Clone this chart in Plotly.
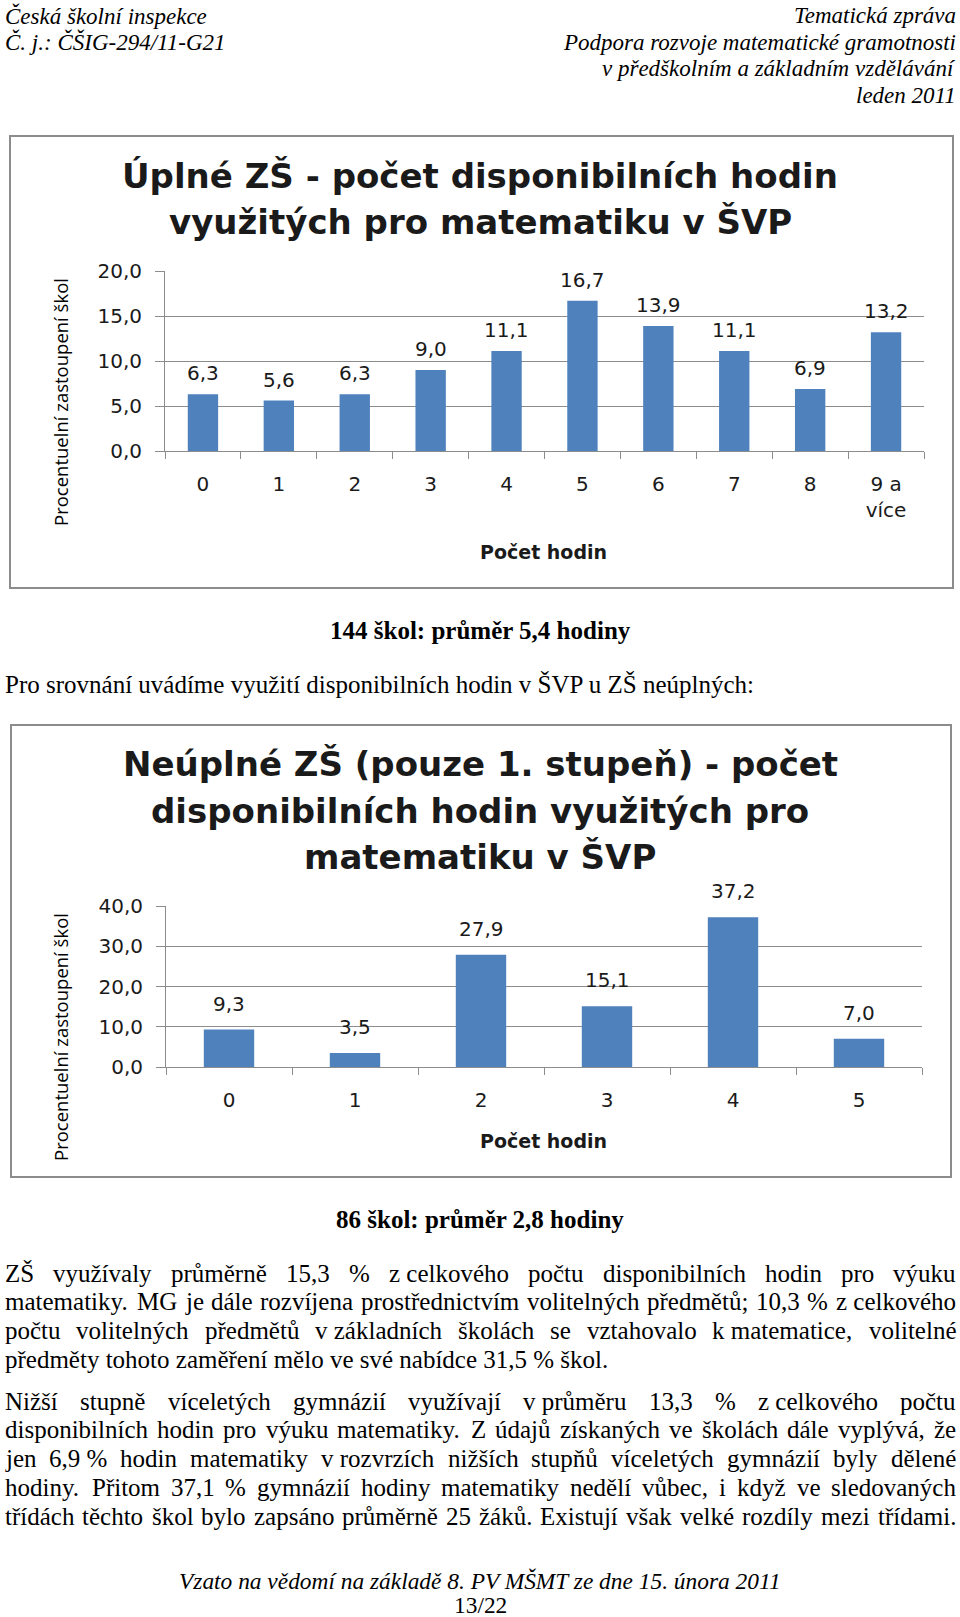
import unicodedata
import plotly.graph_objects as go

W, H = 960, 1617

# ---------------- data ----------------
cats1 = ["0", "1", "2", "3", "4", "5", "6", "7", "8", "9 a<br>více"]
vals1 = [6.3, 5.6, 6.3, 9.0, 11.1, 16.7, 13.9, 11.1, 6.9, 13.2]
title1 = ["Úplné ZŠ - počet disponibilních hodin", "využitých pro matematiku v ŠVP"]

cats2 = ["0", "1", "2", "3", "4", "5"]
vals2 = [9.3, 3.5, 27.9, 15.1, 37.2, 7.0]
title2 = ["Neúplné ZŠ (pouze 1. stupeň) - počet", "disponibilních hodin využitých pro", "matematiku v ŠVP"]

xtitle = "Počet hodin"
ytitle = "Procentuelní zastoupení škol"

header_left = ["Česká školní inspekce", "Č. j.: ČŠIG-294/11-G21"]
header_right = ["Tematická zpráva", "Podpora rozvoje matematické gramotnosti",
                "v předškolním a základním vzdělávání", "leden 2011"]
caption1 = "144 škol: průměr 5,4 hodiny"
intro = "Pro srovnání uvádíme využití disponibilních hodin v ŠVP u ZŠ neúplných:"
caption2 = "86 škol: průměr 2,8 hodiny"
NB = "\u00a0"
para1 = [
    "ZŠ využívaly průměrně 15,3 % z" + NB + "celkového počtu disponibilních hodin pro výuku",
    "matematiky. MG je dále rozvíjena prostřednictvím volitelných předmětů; 10,3 % z" + NB + "celkového",
    "počtu volitelných předmětů v" + NB + "základních školách se vztahovalo k" + NB + "matematice, volitelné",
    "předměty tohoto zaměření mělo ve své nabídce 31,5 % škol.",
]
para2 = [
    "Nižší stupně víceletých gymnázií využívají v" + NB + "průměru 13,3 % z" + NB + "celkového počtu",
    "disponibilních hodin pro výuku matematiky. Z údajů získaných ve školách dále vyplývá, že",
    "jen 6,9" + NB + "% hodin matematiky v" + NB + "rozvrzích nižších stupňů víceletých gymnázií byly dělené",
    "hodiny. Přitom 37,1 % gymnázií hodiny matematiky nedělí vůbec, i když ve sledovaných",
    "třídách těchto škol bylo zapsáno průměrně 25 žáků. Existují však velké rozdíly mezi třídami.",
]
footer = ["Vzato na vědomí na základě 8. PV MŠMT ze dne 15. února 2011", "13/22"]

# ---------------- styles ----------------
BLUE = "#4F81BD"
GRID = "#8C8C8C"
SERIF = "Liberation Serif"
SANS = "DejaVu Sans"
YT = "Open Sans"
BODY = 25
INK = "#1a1a1a"


def X(px):
    return px / W


def Y(py):
    return 1 - py / H


annotations = []


def text(s, px, py, size, xanchor="left", family=SERIF, color="black", angle=0):
    annotations.append(dict(text=s, x=X(px), y=Y(py), xref="paper", yref="paper",
                            xanchor=xanchor, yanchor="middle", showarrow=False,
                            textangle=angle, borderpad=0, borderwidth=0,
                            font=dict(family=family, size=size, color=color)))


# Times-like advance widths (1/1000 em)
TW = {' ': 250, '\u00a0': 250, 'a': 444, 'b': 500, 'c': 444, 'd': 500, 'e': 444, 'f': 333, 'g': 500,
      'h': 500, 'i': 278, 'j': 278, 'k': 500, 'l': 278, 'm': 778, 'n': 500, 'o': 500, 'p': 500,
      'q': 500, 'r': 333, 's': 389, 't': 278, 'u': 500, 'v': 500, 'w': 722, 'x': 500, 'y': 500,
      'z': 444, ',': 250, '.': 250, ';': 278, ':': 278, '%': 833, 'A': 722, 'B': 667, 'C': 667,
      'D': 722, 'E': 611, 'F': 556, 'G': 722, 'H': 722, 'I': 333, 'J': 389, 'K': 722, 'L': 611,
      'M': 889, 'N': 722, 'O': 722, 'P': 556, 'Q': 722, 'R': 667, 'S': 556, 'T': 611, 'U': 722,
      'V': 722, 'W': 944, 'X': 722, 'Y': 722, 'Z': 611}


def width(s, size):
    tot = 0
    for ch in s:
        base = unicodedata.normalize("NFD", ch)[0]
        tot += TW.get(base, 500)
    return tot * size / 1000.0


def justified(line, py, left=5, right=956, size=BODY):
    words = line.split(" ")
    ws = [width(w, size) for w in words]
    gap = (right - left - sum(ws)) / (len(words) - 1)
    xpos = left
    for i, w in enumerate(words):
        if i == len(words) - 1:
            text(w, right, py, size, xanchor="right")
        else:
            text(w, xpos, py, size)
        xpos += ws[i] + gap


# header
for i, s in enumerate(header_left):
    text("<i>" + s + "</i>", 5, 15.5 + 26.5 * i, 23)
for i, s in enumerate(header_right):
    text("<i>" + s + "</i>", 956, 15.5 + 26.5 * i, 23, xanchor="right")

text("<b>" + caption1 + "</b>", 480, 630, BODY, xanchor="center")
text(intro, 5, 684, BODY)
text("<b>" + caption2 + "</b>", 480, 1219, BODY, xanchor="center")

LS = 28.9
for i, s in enumerate(para1):
    if i < len(para1) - 1:
        justified(s, 1273 + LS * i)
    else:
        text(s, 5, 1273 + LS * i, BODY)
for i, s in enumerate(para2):
    justified(s, 1401 + LS * i)

text("<i>" + footer[0] + "</i>", 480, 1581, 23.4, xanchor="center")
text(footer[1], 480, 1605, 23.4, xanchor="center")

# chart titles and axis titles
for i, s in enumerate(title1):
    text("<b>" + s + "</b>", 480, 176 + 46 * i, 34, xanchor="center", family=SANS, color=INK)
for i, s in enumerate(title2):
    text("<b>" + s + "</b>", 480, 764 + 46.5 * i, 34, xanchor="center", family=SANS, color=INK)
text("<b>" + xtitle + "</b>", 543, 552, 19, xanchor="center", family=SANS, color=INK)
text("<b>" + xtitle + "</b>", 543, 1141, 19, xanchor="center", family=SANS, color=INK)
text(ytitle, 60, 402, 18.5, xanchor="center", family=YT, color="black", angle=-90)
text(ytitle, 60, 1037, 18.5, xanchor="center", family=YT, color="black", angle=-90)


def fmt(v):
    return ("%.1f" % v).replace(".", ",")


# data labels
for c, v in zip(cats1, vals1):
    annotations.append(dict(text=fmt(v), x=c, y=v, xref="x", yref="y", yanchor="middle",
                            yshift=21, showarrow=False, font=dict(family=SANS, size=20, color=INK)))
for c, v in zip(cats2, vals2):
    annotations.append(dict(text=fmt(v), x=c, y=v, xref="x2", yref="y2", yanchor="middle",
                            yshift=26, showarrow=False, font=dict(family=SANS, size=20, color=INK)))

fig = go.Figure()
fig.add_trace(go.Bar(x=cats1, y=vals1, marker=dict(color=BLUE, line=dict(width=0)),
                     width=0.4, xaxis="x", yaxis="y", hoverinfo="skip"))
fig.add_trace(go.Bar(x=cats2, y=vals2, marker=dict(color=BLUE, line=dict(width=0)),
                     width=0.4, xaxis="x2", yaxis="y2", hoverinfo="skip"))

xcommon = dict(type="category", showline=True, linecolor=GRID, linewidth=1, ticks="outside",
               tickson="boundaries", ticklen=7, tickcolor=GRID, showgrid=False, automargin=False,
               tickfont=dict(family=SANS, size=20, color=INK), ticklabelstandoff=15)
ycommon = dict(showline=True, linecolor=GRID, linewidth=1, ticks="outside", ticklen=9,
               tickcolor=GRID, showgrid=True, gridcolor=GRID, gridwidth=1, zeroline=False,
               automargin=False,
               tickformat=".1f", tickfont=dict(family=SANS, size=20, color=INK),
               ticklabelstandoff=9)

fig.update_layout(
    width=W, height=H, margin=dict(l=0, r=0, t=0, b=0, pad=0, autoexpand=False),
    paper_bgcolor="white", plot_bgcolor="white", showlegend=False,
    separators=", ",
    xaxis=dict(domain=[X(165), X(924)], anchor="y", **xcommon),
    yaxis=dict(domain=[Y(451), Y(271)], anchor="x", range=[0, 20], dtick=5, **ycommon),
    xaxis2=dict(domain=[X(166), X(922)], anchor="y2", **xcommon),
    yaxis2=dict(domain=[Y(1067), Y(906)], anchor="x2", range=[0, 40], dtick=10, **ycommon),
    annotations=annotations,
    shapes=[
        dict(type="rect", xref="paper", yref="paper", x0=X(10), x1=X(953), y0=Y(588), y1=Y(136),
             line=dict(color=GRID, width=2)),
        dict(type="rect", xref="paper", yref="paper", x0=X(11), x1=X(951), y0=Y(1177), y1=Y(725),
             line=dict(color=GRID, width=2)),
    ],
)

fig.write_html("out.html")
